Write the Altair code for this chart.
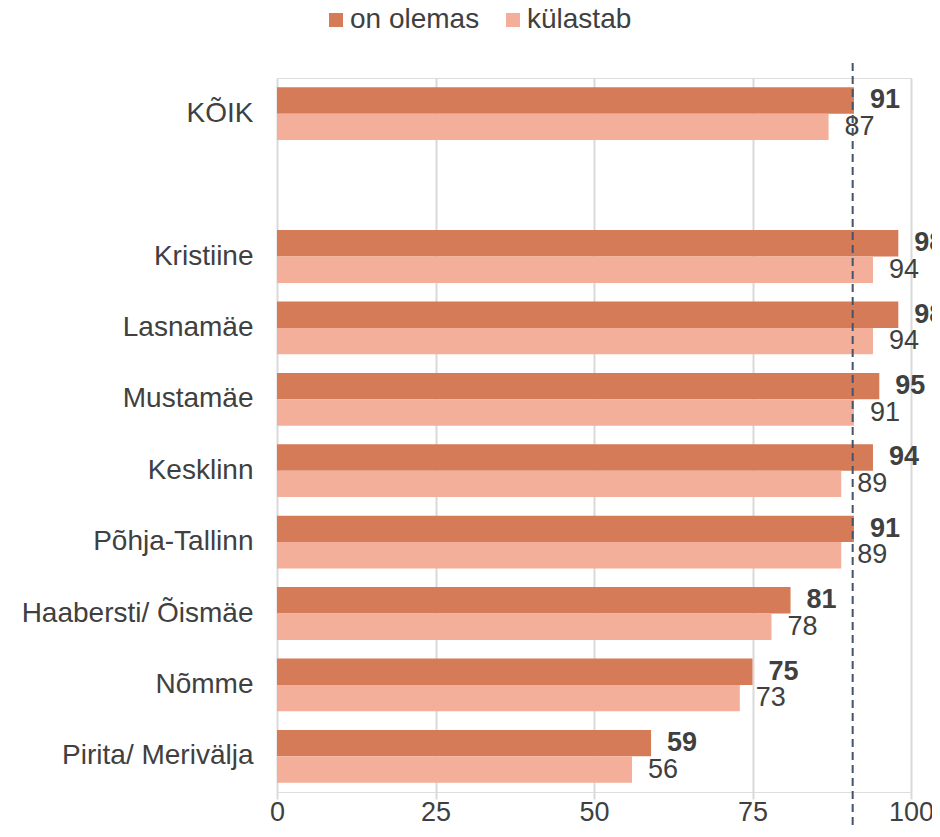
import altair as alt
import pandas as pd

categories = ["KÕIK", "Kristiine", "Lasnamäe", "Mustamäe", "Kesklinn",
              "Põhja-Tallinn", "Haabersti/ Õismäe", "Nõmme", "Pirita/ Merivälja"]
series = ["on olemas", "külastab"]
on_olemas = [91, 98, 98, 95, 94, 91, 81, 75, 59]
kulastab = [87, 94, 94, 91, 89, 89, 78, 73, 56]
ref_value = [90.8]
x_ticks = [0, 25, 50, 75, 100]
colors = ["#D67B57", "#F3AF9A"]

rows = []
for c, a, b in zip(categories, on_olemas, kulastab):
    rows.append({"cat": c, "series": series[0], "value": a})
    rows.append({"cat": c, "series": series[1], "value": b})
df = pd.DataFrame(rows)
ref_df = pd.DataFrame({"value": ref_value})

y_domain = [categories[0], " "] + categories[1:]
FONT = "Liberation Sans"
TXT = "#404040"

x_enc = alt.X(
    "value:Q",
    scale=alt.Scale(domain=[0, 100], nice=False),
    axis=alt.Axis(values=x_ticks, title=None, grid=True, gridColor="#D9D9D9",
                  gridWidth=2, domain=False, tickColor="#D9D9D9", tickSize=7,
                  tickWidth=2, labelFontSize=27, labelColor=TXT, labelPadding=0,
                  labelFlush=False, labelFont=FONT),
)
y_enc = alt.Y(
    "cat:N",
    scale=alt.Scale(domain=y_domain, paddingInner=0.26, paddingOuter=0.13),
    axis=alt.Axis(title=None, labelFontSize=28, labelColor=TXT, labelPadding=24,
                  ticks=False, domain=False, labelFont=FONT, labelLimit=400),
)
yoff = alt.YOffset("series:N", scale=alt.Scale(domain=series), sort=series)

base = alt.Chart(df)

bars = base.mark_bar().encode(
    x=x_enc,
    y=y_enc,
    yOffset=yoff,
    color=alt.Color(
        "series:N",
        scale=alt.Scale(domain=series, range=colors),
        sort=series,
        legend=alt.Legend(title=None, orient="none", legendX=45, legendY=-72,
                          direction="horizontal", symbolType="square",
                          symbolSize=196, symbolStrokeWidth=0,
                          labelFontSize=28, labelColor=TXT, labelFont=FONT,
                          columnPadding=19, labelOffset=0, labelLimit=300),
    ),
)

lab1 = base.transform_filter(alt.datum.series == series[0]).mark_text(
    align="left", baseline="middle", dx=16, fontSize=27, fontWeight="bold",
    color=TXT, font=FONT,
).encode(x=x_enc, y=y_enc, yOffset=yoff, text=alt.Text("value:Q"))

lab2 = base.transform_filter(alt.datum.series == series[1]).mark_text(
    align="left", baseline="middle", dx=16, fontSize=27,
    color=TXT, font=FONT,
).encode(x=x_enc, y=y_enc, yOffset=yoff, text=alt.Text("value:Q"))

rule = alt.Chart(ref_df).mark_rule(
    color="#44546A", strokeDash=[8, 5], strokeWidth=2
).encode(x=x_enc, y=alt.value(-15), y2=alt.value(800))

chart = alt.layer(bars, lab1, lab2, rule).properties(
    width=634,
    height=714,
    autosize=alt.AutoSizeParams(type="none"),
    padding={"left": 269, "top": 70, "right": 21, "bottom": 37},
).configure_view(stroke=None).configure(font=FONT)

chart.save("out.html", embed_options={"renderer": "svg", "actions": False})
